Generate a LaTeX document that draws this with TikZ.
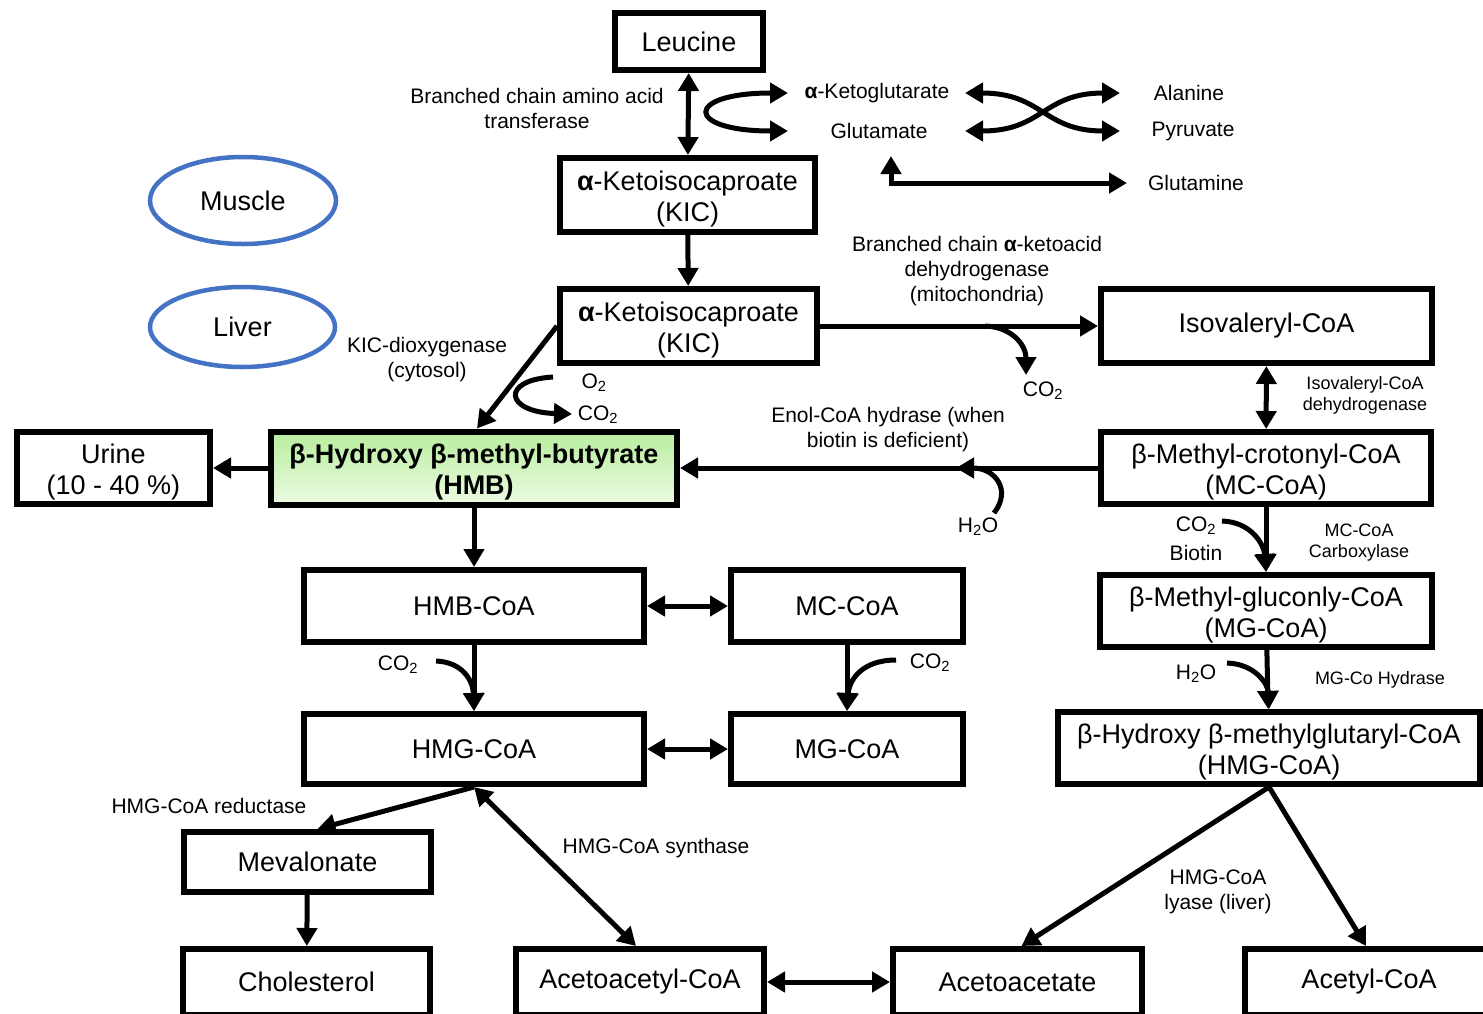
\documentclass[tikz,border=0pt]{standalone}
\usepackage{fontspec}
\setmainfont{Liberation Sans}
\usetikzlibrary{arrows.meta,positioning,shapes.geometric}
\definecolor{organblue}{RGB}{68,114,196}
\definecolor{hmbtop}{RGB}{184,238,158}
\definecolor{hmbbot}{RGB}{236,251,226}
\newcommand{\sub}[1]{\textsubscript{#1}}
\newcommand{\topstrut}{\rule{0pt}{26.7pt}}
\tikzset{
	box/.style={draw, line width=6pt, outer sep=3pt, inner sep=0pt, align=center, font=\fontsize{27}{31}\selectfont},
	organ/.style={ellipse, draw=organblue, line width=4.5pt, inner sep=0pt, font=\fontsize{27}{31}\selectfont},
	lbl/.style={align=center, inner sep=0pt, font=\fontsize{21}{25}\selectfont},
	sml/.style={align=center, inner sep=0pt, font=\fontsize{18}{21}\selectfont},
	tip/.tip={Triangle[length=18pt,width=20pt]},
	arr/.style={line width=5pt, -tip},
	darr/.style={line width=5pt, tip-tip},
}

\begin{document}
\begin{tikzpicture}[x=1pt, y=-1pt]
	\useasboundingbox (0,0) rectangle (1483,1013);
	
	\node[box, minimum width=148, minimum height=57] (leu) at (689,41.5) {Leucine};
	\node[box, minimum width=255, minimum height=74] (kic1) at (687.5,195) {\topstrut{\bfseries α}-Ketoisocaproate\\(KIC)};
	\node[box, minimum width=257, minimum height=74] (kic2) at (688.5,326) {\topstrut{\bfseries α}-Ketoisocaproate\\(KIC)};
	\node[box, minimum width=331, minimum height=74] (ivc) at (1266.5,326) {Isovaleryl-CoA};
	\node[box, minimum width=330, minimum height=72] (mcc) at (1266,468) {\topstrut β-Methyl-crotonyl-CoA\\(MC-CoA)};
	\node[box, minimum width=332, minimum height=72] (mgc) at (1266,611) {\topstrut β-Methyl-gluconly-CoA\\(MG-CoA)};
	\node[box, minimum width=422, minimum height=72] (hmgr) at (1269,748) {\topstrut β-Hydroxy β-methylglutaryl-CoA\\(HMG-CoA)};
	
	\node[box, minimum width=406, minimum height=73, top color=hmbtop, bottom color=hmbbot, font=\fontsize{27}{31}\selectfont\bfseries] (hmb) at (474,468) {\topstrut β-Hydroxy β-methyl-butyrate\\(HMB)};
	\node[box, minimum width=193, minimum height=72] (urine) at (113.5,468) {\topstrut Urine\\(10 - 40 \%)};
	
	\node[box, minimum width=340, minimum height=72] (hmbcoa) at (474,606) {HMB-CoA};
	\node[box, minimum width=232, minimum height=72] (mcs) at (847,606) {MC-CoA};
	\node[box, minimum width=340, minimum height=70] (hmgcoa) at (474,749) {HMG-CoA};
	\node[box, minimum width=232, minimum height=70] (mgs) at (847,749) {MG-CoA};
	
	\node[box, minimum width=247, minimum height=60] (meva) at (307.5,862) {Mevalonate};
	\node[box, minimum width=247, minimum height=66] (chol) at (306.5,982) {Cholesterol};
	\node[box, minimum width=248, minimum height=66] (aacoa) at (640,982) {Acetoacetyl-CoA};
	\node[box, minimum width=249, minimum height=66] (aac) at (1017.5,982) {Acetoacetate};
	\node[box, minimum width=248, minimum height=66] (acoa) at (1369,982) {Acetyl-CoA};
	
	\node[organ, minimum width=186, minimum height=87] (muscle) at (243,200.5) {Muscle};
	\node[organ, minimum width=185, minimum height=80] (liver) at (242.5,327) {Liver};
	
	\node[lbl] (bcat) at (537,108) {Branched chain amino acid\\transferase};
	\node[lbl] (akg) at (877,93) {{\bfseries α}-Ketoglutarate};
	\node[lbl] (glu) at (879,131) {Glutamate};
	\node[lbl] (ala) at (1189,93) {Alanine};
	\node[lbl] (pyr) at (1193,131) {Pyruvate};
	\node[lbl] (gln) at (1196,183) {Glutamine};
	\node[lbl] (bckd) at (977,271) {Branched chain {\bfseries α}-ketoacid\\dehydrogenase\\(mitochondria)};
	\node[lbl] (kicdo) at (427,360) {KIC-dioxygenase\\(cytosol)};
	\node[lbl] (o2) at (594,383) {O\sub{2}};
	\node[lbl] (co2a) at (598,415) {CO\sub{2}};
	\node[lbl] (co2b) at (1043,391) {CO\sub{2}};
	\node[sml] (ivcd) at (1365,395) {Isovaleryl-CoA\\dehydrogenase};
	\node[lbl] (enol) at (888,430) {Enol-CoA hydrase (when\\biotin is deficient)};
	\node[lbl] (h2oa) at (978,527) {H\sub{2}O};
	\node[lbl] (co2c) at (1196,526) {CO\sub{2}};
	\node[lbl, below=10pt of co2c] (biotin) {Biotin};
	\node[sml] (mccarb) at (1359,543) {MC-CoA\\Carboxylase};
	\node[lbl] (h2ob) at (1196,674) {H\sub{2}O};
	\node[sml] (mghyd) at (1380,680) {MG-Co Hydrase};
	\node[lbl] (co2d) at (398,665) {CO\sub{2}};
	\node[lbl] (co2e) at (930,663) {CO\sub{2}};
	\node[lbl] (hmgred) at (209,806) {HMG-CoA reductase};
	\node[lbl] (hmgsyn) at (656,848) {HMG-CoA synthase};
	\node[lbl] (hmgly) at (1218,892) {HMG-CoA\\lyase (liver)};
	
	\coordinate (loopa) at (788,93);
	\coordinate (loopb) at (788,131);
	\coordinate (xal) at (965,93);
	\coordinate (xgl) at (965,131);
	\coordinate (xar) at (1120,93);
	\coordinate (xpr) at (1120,131);
	\coordinate (glnup) at (891,156);
	\coordinate (glnend) at (1127,183);
	\coordinate (o2in) at (553,377);
	\coordinate (co2out) at (572,414);
	\coordinate (bckdco2) at (985,326);
	\coordinate (bckdtip) at (1026,375);
	\coordinate (h2oin) at (994,513);
	\coordinate (h2otip) at (956,468);
	\coordinate (mcco2) at (1222,521);
	\coordinate (mgh2o) at (1227,663);
	\coordinate (hmbco2) at (436,661);
	\coordinate (mcsco2) at (896,660);
	
	\draw[darr] (leu) -- (kic1);
	\draw[darr] (loopa) .. controls (684,93) and (684,131) .. (loopb);
	\draw[darr] (xal) .. controls (1043,93) and (1043,131) .. (xpr);
	\draw[darr] (xgl) .. controls (1043,131) and (1043,93) .. (xar);
	\draw[darr] (glnup) |- (glnend);
	
	\draw[arr] (kic1) -- (kic2);
	\draw[arr] (kic2) -- (ivc);
	\draw[arr] (bckdco2) .. controls (1012,327) and (1026,345) .. (bckdtip);
	\draw[arr] (kic2.west) -- ([xshift=3pt]hmb.north);
	\draw[arr] (o2in) .. controls (500,380) and (505,412) .. (co2out);
	
	\draw[darr] (ivc) -- (mcc);
	\draw[arr] (mcc) -- (hmb);
	\draw[arr] (h2oin) .. controls (1012,490) and (995,468) .. (h2otip);
	\draw[arr] (mcc) -- (mgc);
	\draw[arr] (mcco2) .. controls (1252,522) and (1264,545) .. (mgc.north);
	\draw[arr] (mgc) -- (hmgr);
	\draw[arr] (mgh2o) .. controls (1256,664) and (1268,685) .. (hmgr.north);
	\draw[arr] (hmgr.south) -- ([xshift=4pt]aac.north);
	\draw[arr] (hmgr.south) -- ([xshift=-3pt]acoa.north);
	
	\draw[arr] (hmb) -- (urine);
	\draw[arr] (hmb) -- (hmbcoa);
	\draw[darr] (hmbcoa) -- (mcs);
	\draw[arr] (hmbcoa) -- (hmgcoa);
	\draw[arr] (hmbco2) .. controls (462,662) and (473,680) .. (hmgcoa.north);
	\draw[arr] (mcs) -- (mgs);
	\draw[arr] (mcsco2) .. controls (862,660) and (849,680) .. (mgs.north);
	\draw[darr] (hmgcoa) -- (mgs);
	
	\draw[arr] (hmgcoa.south) -- ([xshift=10pt]meva.north);
	\draw[darr] (hmgcoa.south) -- ([xshift=-4pt]aacoa.north);
	\draw[arr] (meva) -- (chol);
	\draw[darr] (aacoa) -- (aac);
\end{tikzpicture}
\end{document}
